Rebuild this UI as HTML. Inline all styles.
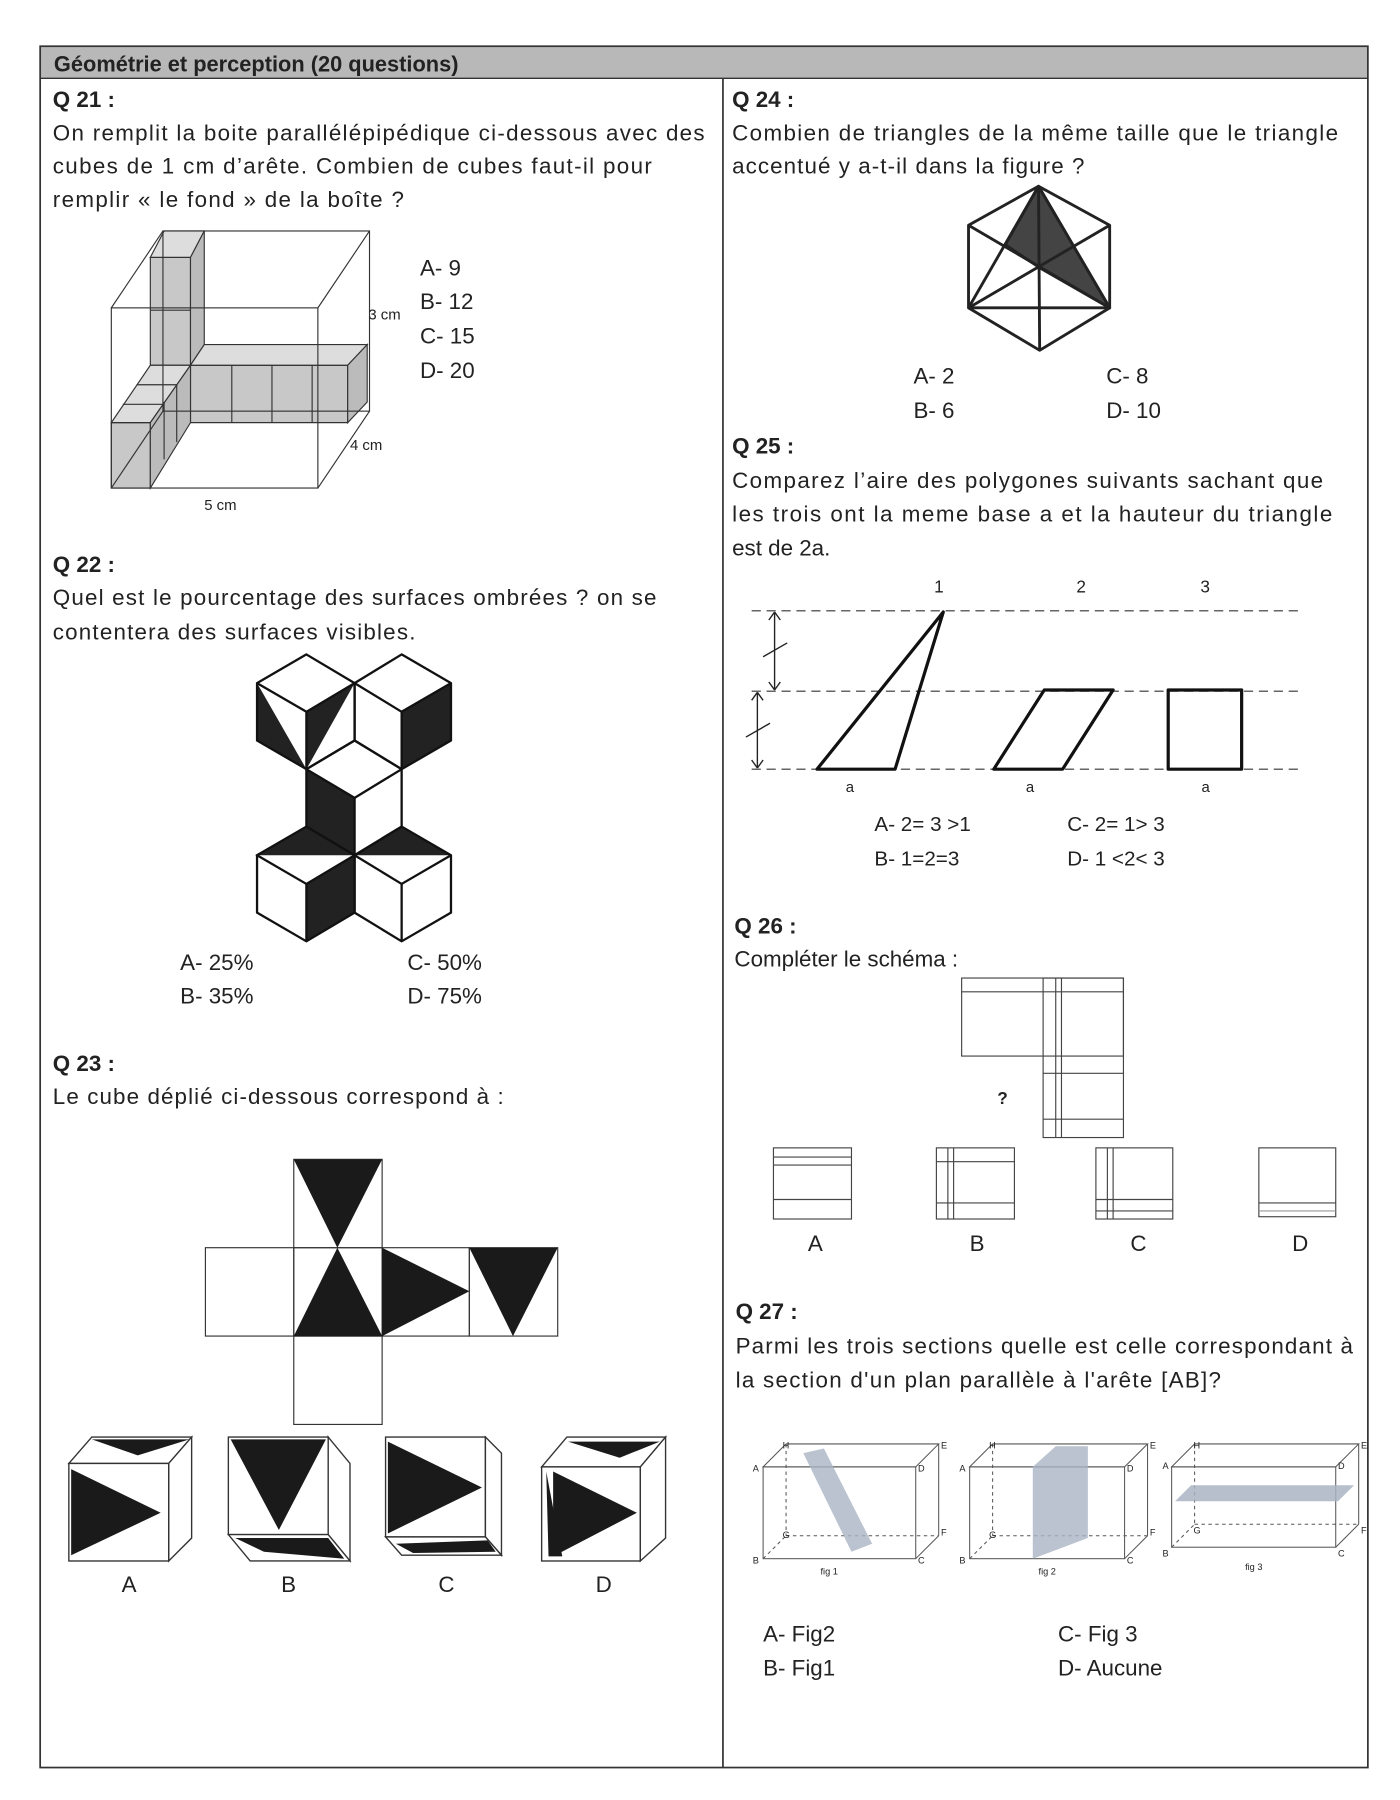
<!DOCTYPE html>
<html><head><meta charset="utf-8"><style>
html,body{margin:0;padding:0;background:#fff;width:1400px;height:1800px;overflow:hidden}
svg{display:block}
text{font-family:"Liberation Sans",sans-serif;fill:#222}
.t{font-size:19.5px}
.b{font-weight:bold}
.s{font-size:13px}
</style></head><body>
<svg width="1400" height="1800" viewBox="0 0 1220 1568" xmlns="http://www.w3.org/2000/svg">
<rect x="0" y="0" width="1220" height="1568" fill="#fff"/>
<rect x="35" y="40" width="1157" height="28" fill="#b8b8b8"/>
<rect x="35" y="40" width="1157" height="1500" fill="none" stroke="#333" stroke-width="1.5"/>
<line x1="35" y1="68" x2="1192" y2="68" stroke="#333" stroke-width="1.2"/>
<line x1="630" y1="68" x2="630" y2="1540" stroke="#333" stroke-width="1.5"/>
<text x="47" y="62" class="t b" style="font-size:19px">Géométrie et perception (20 questions)</text>

<!-- Q21 -->
<text x="46" y="93" class="t b">Q 21 :</text>
<text x="46" y="122" class="t" textLength="568">On remplit la boite parallélépipédique ci-dessous avec des</text>
<text x="46" y="151" class="t" textLength="522">cubes de 1 cm d’arête. Combien de cubes faut-il pour</text>
<text x="46" y="180" class="t" textLength="306">remplir « le fond » de la boîte ?</text>
<g stroke="#333" stroke-width="1" fill="none">
<polygon points="131,224 166,224 166,318 131,318" fill="#c8c8c8"/>
<polygon points="131,224 143,201 178,201 166,224" fill="#ddd"/>
<polygon points="166,224 178,201 178,300 166,318" fill="#bbb"/>
<polygon points="166,318 303,318 303,368 166,368" fill="#c8c8c8"/>
<polygon points="166,318 178,300 320,300 303,318" fill="#ddd"/>
<polygon points="303,318 320,300 320,350 303,368" fill="#bbb"/>
<polygon points="97,368 131,368 131,425 97,425" fill="#c8c8c8"/>
<polygon points="97,368 131,318 166,318 131,368" fill="#ddd"/>
<polygon points="131,368 166,318 166,368 131,425" fill="#bbb"/>
<line x1="202" y1="318" x2="202" y2="368"/><line x1="237" y1="318" x2="237" y2="368"/><line x1="272" y1="318" x2="272" y2="368"/>
<line x1="131" y1="270" x2="166" y2="270"/>
<line x1="107" y1="352" x2="142" y2="352"/><line x1="119" y1="335" x2="154" y2="335"/>
<line x1="143" y1="350" x2="143" y2="400"/><line x1="154" y1="335" x2="154" y2="385"/>
<rect x="97" y="268" width="180" height="157"/>
<rect x="142" y="201" width="180" height="157"/>
<line x1="97" y1="268" x2="142" y2="201"/><line x1="277" y1="268" x2="322" y2="201"/>
<line x1="97" y1="425" x2="142" y2="358"/><line x1="277" y1="425" x2="322" y2="358"/>
</g>
<text x="321" y="278" class="s">3 cm</text>
<text x="305" y="392" class="s">4 cm</text>
<text x="178" y="444" class="s">5 cm</text>
<text x="366" y="240" class="t">A- 9</text>
<text x="366" y="269" class="t">B- 12</text>
<text x="366" y="299" class="t">C- 15</text>
<text x="366" y="329" class="t">D- 20</text>

<!-- Q22 -->
<text x="46" y="498" class="t b">Q 22 :</text>
<text x="46" y="527" class="t" textLength="526">Quel est le pourcentage des surfaces ombrées ? on se</text>
<text x="46" y="557" class="t" textLength="316">contentera des surfaces visibles.</text>
<g stroke="#111" stroke-width="2" fill="#fff" stroke-linejoin="round">
<!-- dark fills -->
<g fill="#222" stroke="none">
<polygon points="224,595 224,645 267,670"/>
<polygon points="267,620 309,595 267,670"/>
<polygon points="350,620 393,595 393,645 350,670"/>
<polygon points="267,670 309,695 309,745 267,720"/>
<polygon points="222,745 267,720 309,745"/>
<polygon points="309,745 350,720 393,745"/>
<polygon points="267,770 309,745 309,795 267,820"/>
</g>
<g fill="none">
<!-- top-left cube -->
<polygon points="267,570 309,595 309,645 267,670 224,645 224,595"/>
<line x1="224" y1="595" x2="267" y2="620"/><line x1="267" y1="620" x2="309" y2="595"/><line x1="267" y1="620" x2="267" y2="670"/>
<!-- top-right cube -->
<polygon points="350,570 393,595 393,645 350,670 309,645 309,595"/>
<line x1="309" y1="595" x2="350" y2="620"/><line x1="350" y1="620" x2="393" y2="595"/><line x1="350" y1="620" x2="350" y2="670"/>
<!-- middle cube -->
<polygon points="309,645 350,670 350,720 309,745 267,720 267,670"/>
<line x1="267" y1="670" x2="309" y2="695"/><line x1="309" y1="695" x2="350" y2="670"/><line x1="309" y1="695" x2="309" y2="745"/>
<!-- bottom-left -->
<polygon points="267,720 309,745 309,795 267,820 224,795 224,745"/>
<line x1="224" y1="745" x2="267" y2="770"/><line x1="267" y1="770" x2="309" y2="745"/><line x1="267" y1="770" x2="267" y2="820"/>
<!-- bottom-right -->
<polygon points="350,720 393,745 393,795 350,820 309,795 309,745"/>
<line x1="309" y1="745" x2="350" y2="770"/><line x1="350" y1="770" x2="393" y2="745"/><line x1="350" y1="770" x2="350" y2="820"/>
</g>
</g>
<text x="157" y="845" class="t">A- 25%</text>
<text x="157" y="874" class="t">B- 35%</text>
<text x="355" y="845" class="t">C- 50%</text>
<text x="355" y="874" class="t">D- 75%</text>

<!-- Q23 -->
<text x="46" y="933" class="t b">Q 23 :</text>
<text x="46" y="962" class="t" textLength="393">Le cube déplié ci-dessous correspond à :</text>
<g stroke="#333" stroke-width="1" fill="none">
<rect x="256" y="1010" width="77" height="77"/>
<rect x="179" y="1087" width="77" height="77"/>
<rect x="256" y="1087" width="77" height="77"/>
<rect x="333" y="1087" width="76" height="77"/>
<rect x="409" y="1087" width="77" height="77"/>
<rect x="256" y="1164" width="77" height="77"/>
</g>
<g fill="#1a1a1a">
<polygon points="256,1010 333,1010 294,1087"/>
<polygon points="294,1087 256,1164 333,1164"/>
<polygon points="333,1087 409,1125 333,1164"/>
<polygon points="409,1087 486,1087 447,1164"/>
</g>
<g stroke="#333" stroke-width="1.2" fill="#fff">
<polygon points="60,1275 80,1252 167,1252 147,1275"/><polygon points="147,1275 167,1252 167,1340 147,1360"/><rect x="60" y="1275" width="87" height="85"/>
<rect x="199" y="1252" width="87" height="85"/><polygon points="286,1252 305,1275 305,1360 286,1337"/><polygon points="199,1337 286,1337 305,1360 218,1360"/>
<rect x="336" y="1252" width="87" height="87"/><polygon points="423,1252 437,1266 437,1355 423,1339"/><polygon points="336,1339 423,1339 437,1355 350,1355"/>
<polygon points="472,1278 494,1252 580,1252 558,1278"/><rect x="472" y="1278" width="86" height="82"/><polygon points="558,1278 580,1252 580,1340 558,1360"/>
</g>
<g fill="#1a1a1a">
<polygon points="62,1280 62,1355 140,1318"/><polygon points="80,1254 165,1254 120,1268"/>
<polygon points="201,1254 284,1254 243,1333"/><polygon points="205,1340 286,1340 300,1358 230,1352"/>
<polygon points="338,1256 338,1336 420,1296"/><polygon points="345,1345 425,1342 432,1352 360,1353"/>
<polygon points="482,1282 482,1356 555,1318"/><polygon points="476,1282 490,1356 478,1356"/><polygon points="495,1256 575,1256 540,1270"/>
</g>
<text x="106" y="1387" class="t">A</text>
<text x="245" y="1387" class="t">B</text>
<text x="382" y="1387" class="t">C</text>
<text x="519" y="1387" class="t">D</text>

<!-- Q24 -->
<text x="638" y="93" class="t b">Q 24 :</text>
<text x="638" y="122" class="t" textLength="528">Combien de triangles de la même taille que le triangle</text>
<text x="638" y="151" class="t" textLength="307">accentué y a-t-il dans la figure ?</text>
<g stroke="#222" stroke-width="2.5" fill="none" stroke-linejoin="round">
<polygon points="905,162 876,213 906,233 967,268" fill="#444"/>
<polygon points="905,162 967,196 967,268 906,305 844,268 844,196"/>
<line x1="905" y1="162" x2="906" y2="305"/>
<line x1="844" y1="268" x2="967" y2="268"/>
<line x1="844" y1="196" x2="967" y2="268"/>
<line x1="967" y1="196" x2="844" y2="268"/>
<line x1="905" y1="162" x2="844" y2="268"/>
<line x1="905" y1="162" x2="967" y2="268"/>
</g>
<text x="796" y="334" class="t">A- 2</text>
<text x="796" y="364" class="t">B- 6</text>
<text x="964" y="334" class="t">C- 8</text>
<text x="964" y="364" class="t">D- 10</text>

<!-- Q25 -->
<text x="638" y="395" class="t b">Q 25 :</text>
<text x="638" y="425" class="t" textLength="515">Comparez l’aire des polygones suivants  sachant que</text>
<text x="638" y="454" class="t" textLength="523">les trois ont la meme base a  et la hauteur du triangle</text>
<text x="638" y="484" class="t">est de 2a.</text>
<text x="814" y="516" class="s" style="font-size:15px">1</text>
<text x="938" y="516" class="s" style="font-size:15px">2</text>
<text x="1046" y="516" class="s" style="font-size:15px">3</text>
<g stroke="#333" stroke-width="1" stroke-dasharray="8,5" fill="none">
<line x1="655" y1="532" x2="1135" y2="532"/>
<line x1="655" y1="602" x2="1135" y2="602"/>
<line x1="655" y1="670" x2="1135" y2="670"/>
</g>
<g stroke="#222" stroke-width="1.2" fill="none">
<line x1="675" y1="534" x2="675" y2="600"/><line x1="670" y1="540" x2="675" y2="533"/><line x1="680" y1="540" x2="675" y2="533"/><line x1="670" y1="594" x2="675" y2="601"/><line x1="680" y1="594" x2="675" y2="601"/>
<line x1="665" y1="572" x2="686" y2="560"/>
<line x1="660" y1="604" x2="660" y2="668"/><line x1="655" y1="610" x2="660" y2="603"/><line x1="665" y1="610" x2="660" y2="603"/><line x1="655" y1="662" x2="660" y2="669"/><line x1="665" y1="662" x2="660" y2="669"/>
<line x1="650" y1="642" x2="671" y2="630"/>
</g>
<g stroke="#111" stroke-width="2.8" fill="none" stroke-linejoin="round">
<polygon points="712,670 822,533 780,670"/>
<polygon points="866,670 910,601 970,601 926,670"/>
<rect x="1018" y="601" width="64" height="69"/>
</g>
<text x="737" y="690" class="s">a</text>
<text x="894" y="690" class="s">a</text>
<text x="1047" y="690" class="s">a</text>
<text x="762" y="724" class="t" style="font-size:18px">A- 2= 3 &gt;1</text>
<text x="762" y="754" class="t" style="font-size:18px">B- 1=2=3</text>
<text x="930" y="724" class="t" style="font-size:18px">C- 2= 1&gt; 3</text>
<text x="930" y="754" class="t" style="font-size:18px">D- 1 &lt;2&lt; 3</text>

<!-- Q26 -->
<text x="640" y="813" class="t b">Q 26 :</text>
<text x="640" y="842" class="t">Compléter le schéma :</text>
<g stroke="#444" stroke-width="1" fill="none">
<rect x="838" y="852" width="141" height="68"/>
<rect x="909" y="852" width="70" height="139"/>
<line x1="838" y1="864" x2="979" y2="864"/>
<line x1="920" y1="852" x2="920" y2="991"/><line x1="925" y1="852" x2="925" y2="991"/>
<line x1="909" y1="935" x2="979" y2="935"/><line x1="909" y1="975" x2="979" y2="975"/>
<rect x="674" y="1000" width="68" height="62"/><line x1="674" y1="1008" x2="742" y2="1008"/><line x1="674" y1="1015" x2="742" y2="1015"/><line x1="674" y1="1045" x2="742" y2="1045"/>
<rect x="816" y="1000" width="68" height="62"/><line x1="816" y1="1012" x2="884" y2="1012"/><line x1="816" y1="1048" x2="884" y2="1048"/><line x1="826" y1="1000" x2="826" y2="1062"/><line x1="831" y1="1000" x2="831" y2="1062"/>
<rect x="955" y="1000" width="67" height="62"/><line x1="965" y1="1000" x2="965" y2="1062"/><line x1="970" y1="1000" x2="970" y2="1062"/><line x1="955" y1="1045" x2="1022" y2="1045"/><line x1="955" y1="1055" x2="1022" y2="1055"/>
<rect x="1097" y="1000" width="67" height="60"/><line x1="1097" y1="1048" x2="1164" y2="1048"/><line x1="1097" y1="1055" x2="1164" y2="1055" stroke="#999"/>
</g>
<text x="869" y="962" class="s b" style="font-size:15px">?</text>
<text x="704" y="1090" class="t">A</text>
<text x="845" y="1090" class="t">B</text>
<text x="985" y="1090" class="t">C</text>
<text x="1126" y="1090" class="t">D</text>

<!-- Q27 -->
<text x="641" y="1149" class="t b">Q 27 :</text>
<text x="641" y="1179" class="t" textLength="538">Parmi les trois sections quelle est celle correspondant à</text>
<text x="641" y="1209" class="t" textLength="423">la section d'un plan parallèle à l'arête [AB]?</text>
<g stroke="#555" stroke-width="0.9" fill="none">
<rect x="665" y="1278" width="133" height="80"/>
<polygon points="665,1278 685,1258 818,1258 798,1278"/><line x1="818" y1="1258" x2="818" y2="1338"/><line x1="798" y1="1358" x2="818" y2="1338"/>
<line x1="685" y1="1258" x2="685" y2="1338" stroke-dasharray="3,3"/><line x1="665" y1="1358" x2="685" y2="1338" stroke-dasharray="3,3"/><line x1="685" y1="1338" x2="818" y2="1338" stroke-dasharray="3,3"/>
<polygon points="700,1266 718,1262 760,1345 742,1352" fill="#aab4c4" stroke="none" opacity="0.8"/>
<rect x="845" y="1278" width="135" height="80"/>
<polygon points="845,1278 865,1258 1000,1258 980,1278"/><line x1="1000" y1="1258" x2="1000" y2="1338"/><line x1="980" y1="1358" x2="1000" y2="1338"/>
<line x1="865" y1="1258" x2="865" y2="1338" stroke-dasharray="3,3"/><line x1="845" y1="1358" x2="865" y2="1338" stroke-dasharray="3,3"/><line x1="865" y1="1338" x2="1000" y2="1338" stroke-dasharray="3,3"/>
<polygon points="900,1278 920,1260 948,1260 948,1340 900,1358" fill="#aab4c4" stroke="none" opacity="0.8"/>
<rect x="1021" y="1278" width="143" height="70"/>
<polygon points="1021,1278 1041,1258 1184,1258 1164,1278"/><line x1="1184" y1="1258" x2="1184" y2="1328"/><line x1="1164" y1="1348" x2="1184" y2="1328"/>
<line x1="1041" y1="1258" x2="1041" y2="1328" stroke-dasharray="3,3"/><line x1="1021" y1="1348" x2="1041" y2="1328" stroke-dasharray="3,3"/><line x1="1041" y1="1328" x2="1184" y2="1328" stroke-dasharray="3,3"/>
<polygon points="1024,1308 1038,1294 1180,1294 1166,1308" fill="#aab4c4" stroke="none" opacity="0.85"/>
</g>
<g>
<text x="656" y="1282" style="font-size:8px">A</text><text x="682" y="1262" style="font-size:8px">H</text><text x="820" y="1262" style="font-size:8px">E</text><text x="800" y="1282" style="font-size:8px">D</text><text x="682" y="1340" style="font-size:8px">G</text><text x="820" y="1338" style="font-size:8px">F</text><text x="656" y="1362" style="font-size:8px">B</text><text x="800" y="1362" style="font-size:8px">C</text><text x="715" y="1372" style="font-size:8px">fig 1</text>
<text x="836" y="1282" style="font-size:8px">A</text><text x="862" y="1262" style="font-size:8px">H</text><text x="1002" y="1262" style="font-size:8px">E</text><text x="982" y="1282" style="font-size:8px">D</text><text x="862" y="1340" style="font-size:8px">G</text><text x="1002" y="1338" style="font-size:8px">F</text><text x="836" y="1362" style="font-size:8px">B</text><text x="982" y="1362" style="font-size:8px">C</text><text x="905" y="1372" style="font-size:8px">fig 2</text>
<text x="1013" y="1280" style="font-size:8px">A</text><text x="1040" y="1262" style="font-size:8px">H</text><text x="1186" y="1262" style="font-size:8px">E</text><text x="1166" y="1280" style="font-size:8px">D</text><text x="1040" y="1336" style="font-size:8px">G</text><text x="1186" y="1336" style="font-size:8px">F</text><text x="1013" y="1356" style="font-size:8px">B</text><text x="1166" y="1356" style="font-size:8px">C</text><text x="1085" y="1368" style="font-size:8px">fig 3</text>
</g>
<text x="665" y="1430" class="t">A- Fig2</text>
<text x="665" y="1460" class="t">B- Fig1</text>
<text x="922" y="1430" class="t">C- Fig 3</text>
<text x="922" y="1460" class="t">D- Aucune</text>
</svg>
</body></html>
